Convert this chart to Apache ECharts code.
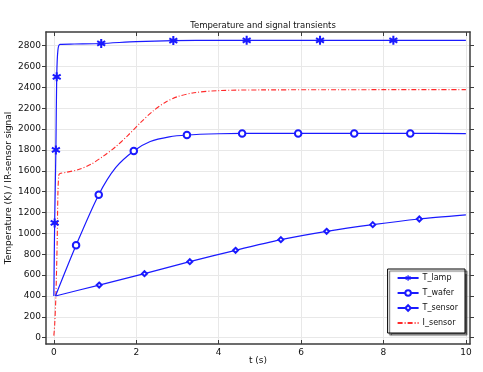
<!DOCTYPE html>
<html>
<head>
<meta charset="utf-8">
<script src="https://cdn.jsdelivr.net/npm/echarts@6/dist/echarts.min.js"></script>
<style>
html,body{margin:0;padding:0;background:#fff;}
#c{width:483px;height:372px;}
</style>
</head>
<body>
<div id="c"></div>
<script>
// ---- data ----
var xTicks = [0, 2, 4, 6, 8, 10];
var yTicks = [0, 200, 400, 600, 800, 1000, 1200, 1400, 1600, 1800, 2000, 2200, 2400, 2600, 2800];

var lampT = [0, 0.02, 0.05, 0.07, 0.1, 0.15, 0.5, 1.15, 2.0, 2.9, 4.0, 4.68, 6.46, 8.24, 10];
var lampV = [400, 1100, 1800, 2500, 2760, 2812, 2815, 2820, 2838, 2848, 2850, 2850, 2850, 2850, 2850];
var lampMark = [0, 1, 1, 1, 0, 0, 0, 1, 0, 1, 0, 1, 1, 1, 0];

var waferT = [0.04, 0.54, 1.09, 1.5, 1.94, 2.34, 2.8, 3.23, 4.0, 4.57, 5.93, 7.29, 8.65, 10];
var waferV = [400, 886, 1371, 1630, 1790, 1880, 1925, 1943, 1955, 1958, 1958, 1958, 1958, 1957];
var waferMark = [0, 1, 1, 0, 1, 0, 0, 1, 0, 1, 1, 1, 1, 0];

var sensorT = [0.04, 1.1, 2.2, 3.3, 4.41, 5.51, 6.62, 7.74, 8.87, 10];
var sensorV = [400, 505, 614, 729, 838, 940, 1020, 1084, 1138, 1177];
var sensorMark = [0, 1, 1, 1, 1, 1, 1, 1, 1, 0];

var iT = [0, 0.02, 0.05, 0.08, 0.1, 0.12, 0.14, 0.3, 0.6, 0.9, 1.2, 1.5, 1.8, 2.1, 2.4, 2.7, 3.0, 3.4, 4.0, 5.0, 10];
var iV = [20, 120, 400, 900, 1400, 1555, 1572, 1585, 1612, 1662, 1740, 1830, 1940, 2060, 2170, 2255, 2310, 2348, 2368, 2375, 2378];

// ---- helpers ----
function build(ts, vs, marks) {
  return ts.map(function (t, i) {
    var d = { value: [t, vs[i]] };
    if (marks && !marks[i]) d.symbol = 'none';
    return d;
  });
}
function asterisk() {
  var s = '';
  var hw = 1.1, hl = 5;
  [90, 30, 150].forEach(function (a) {
    var r = a * Math.PI / 180, c = Math.cos(r), sn = Math.sin(r);
    var ox = -hw * sn, oy = hw * c;
    var x1 = 5 + hl * c, y1 = 5 + hl * sn, x2 = 5 - hl * c, y2 = 5 - hl * sn;
    s += 'M' + (x1 + ox).toFixed(3) + ',' + (y1 + oy).toFixed(3) +
      'L' + (x2 + ox).toFixed(3) + ',' + (y2 + oy).toFixed(3) +
      'L' + (x2 - ox).toFixed(3) + ',' + (y2 - oy).toFixed(3) +
      'L' + (x1 - ox).toFixed(3) + ',' + (y1 - oy).toFixed(3) + 'Z';
  });
  return 'path://' + s;
}
function plain(v) { return String(v); }

var FONT = 'DejaVu Sans';
var frame = { show: true, onZero: false, lineStyle: { color: '#3c3c3c', width: 1.5 } };
var gridLine = { show: true, lineStyle: { color: '#e8e8e8', width: 1 } };
var BLUE = '#1a1aff';
var RED = '#ff2a2a';

var chart = echarts.init(document.getElementById('c'), null, { renderer: 'canvas' });
chart.setOption({
  animation: false,
  backgroundColor: '#fff',
  title: {
    text: 'Temperature and signal transients',
    left: 258, top: 16, textAlign: 'center',
    textStyle: { fontFamily: FONT, fontSize: 8.5, fontWeight: 'normal', color: '#111' }
  },
  grid: { left: 46, right: 13, top: 32, bottom: 28, containLabel: false, outerBoundsMode: 'none' },
  legend: {
    right: 18, top: 269,
    orient: 'vertical',
    itemWidth: 21, itemHeight: 7, itemGap: 7,
    padding: [5, 7, 6, 9],
    backgroundColor: '#fff',
    borderColor: '#000', borderWidth: 1, borderRadius: 0,
    shadowColor: 'rgba(0,0,0,0.6)', shadowBlur: 1, shadowOffsetX: 2, shadowOffsetY: 2,
    textStyle: { fontFamily: FONT, fontSize: 8, color: '#111', padding: [0, 0, 0, -1] },
    data: ['T_lamp', 'T_wafer', 'T_sensor', { name: 'I_sensor', itemStyle: { opacity: 0 } }]
  },
  xAxis: [{
    type: 'value', min: -0.19, max: 10.1,
    name: 't (s)', nameLocation: 'middle', nameGap: 12, nameMoveOverlap: false,
    nameTextStyle: { fontFamily: FONT, fontSize: 9, color: '#111' },
    axisLine: frame,
    axisTick: { show: true, inside: true, length: 4, customValues: xTicks, lineStyle: { color: '#3c3c3c' } },
    axisLabel: { customValues: xTicks, formatter: plain, fontFamily: FONT, fontSize: 9, color: '#111', margin: 4 },
    splitLine: gridLine
  }, {
    type: 'value', min: -0.19, max: 10.1, position: 'top',
    axisLine: frame,
    axisTick: { show: true, inside: true, length: 4, customValues: xTicks, lineStyle: { color: '#3c3c3c' } },
    axisLabel: { show: false },
    splitLine: { show: false }
  }],
  yAxis: [{
    type: 'value', min: -60, max: 2930,
    name: 'Temperature (K) / IR-sensor signal', nameLocation: 'middle', nameGap: 33, nameMoveOverlap: false,
    nameTextStyle: { fontFamily: FONT, fontSize: 9, color: '#111' },
    axisLine: frame,
    axisTick: { show: true, inside: false, length: 4, customValues: yTicks, lineStyle: { color: '#3c3c3c' } },
    axisLabel: { customValues: yTicks, formatter: plain, fontFamily: FONT, fontSize: 9, color: '#111', margin: 5 },
    splitLine: gridLine
  }, {
    type: 'value', min: -60, max: 2930, position: 'right',
    axisLine: frame,
    axisTick: { show: true, inside: false, length: 4, customValues: yTicks, lineStyle: { color: '#3c3c3c' } },
    axisLabel: { show: false },
    splitLine: { show: false }
  }],
  series: [{
    name: 'T_lamp', type: 'line',
    data: build(lampT, lampV, lampMark),
    symbol: asterisk(), symbolSize: 9, smooth: 0.25,
    lineStyle: { color: BLUE, width: 1.2 },
    itemStyle: { color: BLUE, borderWidth: 0 },
    z: 5
  }, {
    name: 'T_wafer', type: 'line',
    data: build(waferT, waferV, waferMark),
    symbol: 'emptyCircle', symbolSize: 6.5, smooth: 0.3,
    lineStyle: { color: BLUE, width: 1.2 },
    itemStyle: { color: BLUE, borderColor: BLUE, borderWidth: 1.3 },
    z: 4
  }, {
    name: 'T_sensor', type: 'line',
    data: build(sensorT, sensorV, sensorMark),
    symbol: 'emptyDiamond', symbolSize: 5, smooth: 0.2,
    lineStyle: { color: BLUE, width: 1.2 },
    itemStyle: { color: BLUE, borderColor: BLUE, borderWidth: 1.2 },
    z: 4
  }, {
    name: 'I_sensor', type: 'line',
    data: build(iT, iV, null),
    symbol: 'none', smooth: 0.3,
    lineStyle: { color: RED, width: 1.1, type: [5, 2, 1, 2] },
    itemStyle: { color: RED },
    z: 3
  }]
});
</script>
</body>
</html>
